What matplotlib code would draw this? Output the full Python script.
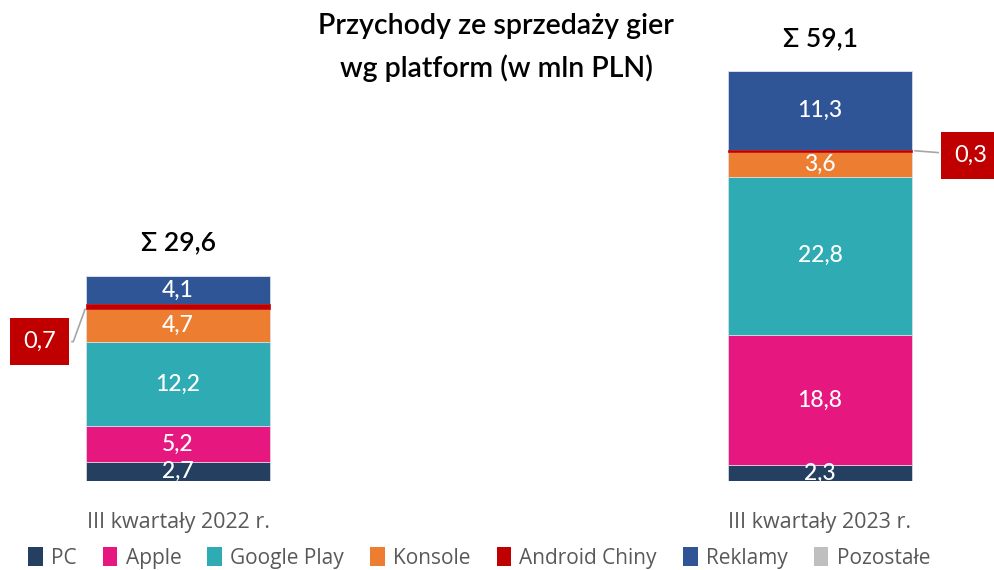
import numpy as np
import matplotlib.pyplot as plt
from matplotlib.patches import Patch

plt.rcParams['font.family'] = ['Lato', 'DejaVu Sans']

# dane
categories = ['III kwartały 2022 r.', 'III kwartały 2023 r.']
series = ['PC', 'Apple', 'Google Play', 'Konsole', 'Android Chiny', 'Reklamy', 'Pozostałe']
pc = [2.7, 2.3]
apple = [5.2, 18.8]
google_play = [12.2, 22.8]
konsole = [4.7, 3.6]
android_chiny = [0.7, 0.3]
reklamy = [4.1, 11.3]
pozostale = [0.0, 0.0]
totals = [29.6, 59.1]

colors = ['#243F60', '#E6177F', '#2EABB3', '#ED7D31', '#C00000', '#2F5597', '#BFBFBF']
values = [pc, apple, google_play, konsole, android_chiny, reklamy, pozostale]

fig = plt.figure(figsize=(9.94, 5.70), dpi=100)
ax = fig.add_axes([0, 0.156, 1, 0.791])

x = np.arange(len(categories))
width = 0.2866
bottom = np.zeros(len(categories))
for name, vals, col in zip(series, values, colors):
    vals = np.array(vals)
    edge = col if name == 'Android Chiny' else '#dde3ec'
    ax.bar(x, vals, width, bottom=bottom, color=col, edgecolor=edge, linewidth=0.5,
           zorder=3 if name == 'Android Chiny' else 2)
    for xi, v, b in zip(x, vals, bottom):
        if v >= 1:
            ax.text(xi, b + v / 2, f'{v:.1f}'.replace('.', ','), ha='center', va='center',
                    color='white', fontsize=16.5, fontweight='medium', clip_on=False, zorder=4)
    bottom += vals

# sumy
for xi, t in zip(x, totals):
    ax.text(xi, t + 4.7, 'Σ ' + f'{t:.1f}'.replace('.', ','), ha='center', va='center',
            fontsize=19, fontweight='semibold', color='black')

# etykiety Android Chiny
ac_mid = [pc[i] + apple[i] + google_play[i] + konsole[i] + android_chiny[i] / 2 for i in range(2)]
box = dict(boxstyle='square,pad=0.55', fc='#C00000', ec='none')
ax.annotate('0,7', xy=(x[0] - width / 2, ac_mid[0]), xytext=(-0.2155, 20.1),
            ha='center', va='center', color='white', fontsize=17, bbox=box,
            arrowprops=dict(arrowstyle='-', color='#A6A6A6', lw=1.2,
                            connectionstyle='angle,angleA=0,angleB=70,rad=0'))
ax.annotate('0,3', xy=(x[1] + width / 2, ac_mid[1]), xytext=(1.2345, 47.0),
            ha='center', va='center', color='white', fontsize=17, bbox=box,
            arrowprops=dict(arrowstyle='-', color='#A6A6A6', lw=1.2))

ax.set_xlim(-0.2773, 1.2710)
ax.set_ylim(0, 65)
ax.set_xticks(x)
ax.set_xticklabels(categories, fontsize=15.5, color='#595959', family='Open Sans')
ax.tick_params(axis='x', length=0, pad=22)
ax.set_yticks([])
for s in ax.spines.values():
    s.set_visible(False)

fig.text(0.499, 0.955, 'Przychody ze sprzedaży gier', ha='center', va='center',
         fontsize=20.5, fontweight='semibold')
fig.text(0.499, 0.880, 'wg platform (w mln PLN)', ha='center', va='center',
         fontsize=20.5, fontweight='semibold')

handles = [Patch(facecolor=c, edgecolor='none') for c in colors]
fig.legend(handles, series, loc='center', bbox_to_anchor=(0.482, 0.021), ncol=7,
           frameon=False, handlelength=0.7, handleheight=1.0,
           handletextpad=0.4, columnspacing=1.25, labelcolor='#595959',
           prop={'family': 'Open Sans', 'size': 15})

fig.savefig('out.png', dpi=100)
